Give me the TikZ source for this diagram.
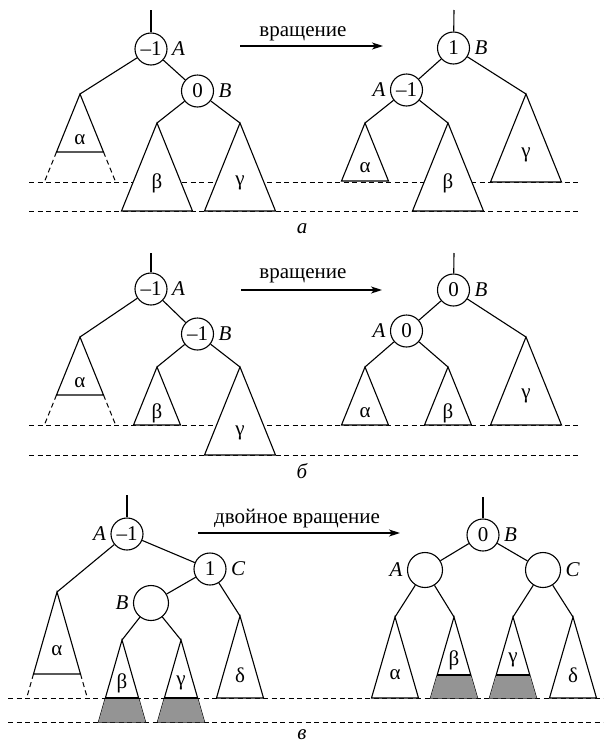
\documentclass[tikz,border=0pt]{standalone}
\usepackage{fontspec}
\setmainfont{Liberation Serif}
\usetikzlibrary{calc,arrows.meta,positioning}

\tikzset{
  txt/.style={font=\fontsize{21}{24}\selectfont},
  bal/.style={draw, circle, fill=white, minimum size=32pt, inner sep=0pt, txt},
  bigbal/.style={bal, minimum size=35pt},
  nm/.style={inner sep=1pt, txt, font=\fontsize{21}{24}\selectfont\itshape},
  gk/.style={inner sep=0pt, txt},
  lvl/.style={dash pattern=on 5pt off 3.5pt, line width=1pt},
  ext/.style={dash pattern=on 5pt off 3.5pt, line width=1pt},
  tri/.style={draw, fill=white, line join=miter},
  shd/.style={fill=black!42},
  caption/.style={font=\fontsize{21}{24}\selectfont\itshape},
  rot/.style={-{Stealth[length=11pt,width=7pt,inset=3pt]}, line width=1.3pt},
}

% subtree triangle: name, apex x, apex y, half-width, height, label, label offset
\newcommand\subtree[7]{%
  \coordinate (#1) at (#2,#3);
  \path[tri] (#1) -- ++(-#4,#5) -- ++(2*#4,0) -- cycle;
  \node[gk] (#1-t) at (#2,#3+#7) {#6};
}
% dashed continuation of a subtree: apex x, apex y, half-width, height, extra depth
\newcommand\growth[5]{%
  \draw[ext] (#1-#3,#2+#4) -- ++({-#3*#5/#4},#5);
  \draw[ext] (#1+#3,#2+#4) -- ++({#3*#5/#4},#5);
}
% shaded bottom band: apex x, apex y, half-width, height, depth of band top
\newcommand\bottomband[5]{%
  \fill[shd] ({#1-#3*#5/#4},#2+#5) -- ({#1+#3*#5/#4},#2+#5) -- (#1+#3,#2+#4) -- (#1-#3,#2+#4) -- cycle;
  \draw ({#1-#3*#5/#4},#2+#5) -- ({#1+#3*#5/#4},#2+#5);
}

\begin{document}
\begin{tikzpicture}[x=1pt, y=-1pt, line width=1.1pt]
\useasboundingbox (0,0) rectangle (609,750);

% ---------------- (a) single rotation ----------------
\draw[lvl] (29,182) -- (580,182);
\draw[lvl] (29,211) -- (580,211);

\coordinate (aR) at (151,10);
\node[bal] (aA) at (151,49) {–1};
\node[nm, right=3pt of aA] (aAn) {A};
\node[bal] (aB) at (197.5,91) {0};
\node[nm, right=3pt of aB] (aBn) {B};
\growth{80}{94}{23.5}{58}{30}
\subtree{aal}{80}{94}{23.5}{58}{α}{46}
\subtree{abe}{157}{123}{35.5}{88}{β}{60}
\subtree{aga}{240}{123}{35.5}{88}{γ}{60}
\draw (aR) -- (aA);
\draw (aA) -- (aal);
\draw (aA) -- (aB);
\draw (aB) -- (abe);
\draw (aB) -- (aga);

\coordinate (aRs) at (240,46);
\coordinate (aRe) at (383,46);
\draw[rot] (aRs) -- (aRe);
\node[txt, anchor=base] (aRt) at (303,36) {вращение};

\coordinate (aR2) at (454,10);
\node[bal] (aB2) at (453.5,48) {1};
\node[nm, right=3pt of aB2] (aB2n) {B};
\node[bal] (aA2) at (406.5,90) {–1};
\node[nm, left=3pt of aA2] (aA2n) {A};
\subtree{aal2}{365}{123}{23.5}{58}{α}{45}
\subtree{abe2}{448}{123}{35.5}{88}{β}{60}
\subtree{aga2}{526}{94}{35.5}{88}{γ}{61}
\draw (aR2) -- (aB2);
\draw (aB2) -- (aA2);
\draw (aB2) -- (aga2);
\draw (aA2) -- (aal2);
\draw (aA2) -- (abe2);

\node[caption] (capa) at (302,229) {а};

% ---------------- (б) single rotation ----------------
\draw[lvl] (29,425) -- (580,425);
\draw[lvl] (29,455) -- (580,455);

\coordinate (bR) at (151,253);
\node[bal] (bA) at (151,289) {–1};
\node[nm, right=3pt of bA] (bAn) {A};
\node[bal] (bB) at (197.5,334) {–1};
\node[nm, right=3pt of bB] (bBn) {B};
\growth{80}{337}{23.5}{58}{30}
\subtree{bal}{80}{337}{23.5}{58}{α}{46}
\subtree{bbe}{157}{367}{23.5}{58}{β}{46}
\subtree{bga}{240}{367}{35.5}{88}{γ}{66}
\draw (bR) -- (bA);
\draw (bA) -- (bal);
\draw (bA) -- (bB);
\draw (bB) -- (bbe);
\draw (bB) -- (bga);

\coordinate (bRs) at (241,290);
\coordinate (bRe) at (382,290);
\draw[rot] (bRs) -- (bRe);
\node[txt, anchor=base] (bRt) at (303,278) {вращение};

\coordinate (bR2) at (454,253);
\node[bal] (bB2) at (453.5,290) {0};
\node[nm, right=3pt of bB2] (bB2n) {B};
\node[bal] (bA2) at (406.5,331) {0};
\node[nm, left=3pt of bA2] (bA2n) {A};
\subtree{bal2}{365}{367}{23.5}{58}{α}{46}
\subtree{bbe2}{448}{367}{23.5}{58}{β}{46}
\subtree{bga2}{526}{337}{35.5}{88}{γ}{59}
\draw (bR2) -- (bB2);
\draw (bB2) -- (bA2);
\draw (bB2) -- (bga2);
\draw (bA2) -- (bal2);
\draw (bA2) -- (bbe2);

\node[caption] (capb) at (302,471) {б};

% ---------------- (в) double rotation ----------------
\draw[lvl] (8,698) -- (603,698);
\draw[lvl] (8,722) -- (603,722);

\coordinate (cR) at (127,495);
\node[bal] (cA) at (127,534) {–1};
\node[nm, left=3pt of cA] (cAn) {A};
\node[bal] (cC) at (210,569) {1};
\node[nm, right=3pt of cC] (cCn) {C};
\node[bigbal] (cB) at (151,603) {};
\node[nm, left=3pt of cB] (cBn) {B};
\growth{57}{592}{23.5}{82}{24}
\subtree{cal}{57}{592}{23.5}{82}{α}{59}
\subtree{cbe}{122}{640}{23.5}{82}{β}{43}
\bottomband{122}{640}{23.5}{82}{58}
\subtree{cga}{181}{640}{23.5}{82}{γ}{43}
\bottomband{181}{640}{23.5}{82}{58}
\subtree{cde}{240}{616}{23.5}{82}{δ}{59}
\draw (cR) -- (cA);
\draw (cA) -- (cal);
\draw (cA) -- (cC);
\draw (cC) -- (cB);
\draw (cC) -- (cde);
\draw (cB) -- (cbe);
\draw (cB) -- (cga);

\coordinate (cRs) at (198,533);
\coordinate (cRe) at (400,533);
\draw[rot] (cRs) -- (cRe);
\node[txt, anchor=base] (cRt) at (297,523) {двойное вращение};

\coordinate (cR2) at (483,497);
\node[bal] (cB2) at (483,535) {0};
\node[nm, right=3pt of cB2] (cB2n) {B};
\node[bigbal] (cA2) at (425,570) {};
\node[nm, left=3pt of cA2] (cA2n) {A};
\node[bigbal] (cC2) at (543,570) {};
\node[nm, right=3pt of cC2] (cC2n) {C};
\subtree{cal2}{395}{617}{23.5}{81}{α}{58}
\subtree{cbe2}{454}{617}{23.5}{81}{β}{43}
\bottomband{454}{617}{23.5}{81}{58}
\subtree{cga2}{513}{617}{23.5}{81}{γ}{43}
\bottomband{513}{617}{23.5}{81}{58}
\subtree{cde2}{573}{617}{23.5}{81}{δ}{58}
\draw (cR2) -- (cB2);
\draw (cB2) -- (cA2);
\draw (cB2) -- (cC2);
\draw (cA2) -- (cal2);
\draw (cA2) -- (cbe2);
\draw (cC2) -- (cga2);
\draw (cC2) -- (cde2);

\node[caption] (capc) at (302,735) {в};
\end{tikzpicture}
\end{document}
